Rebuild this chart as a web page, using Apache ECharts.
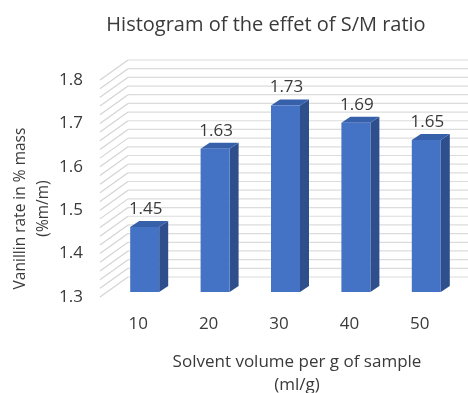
<!DOCTYPE html>
<html>
<head>
<meta charset="utf-8">
<script src="https://cdn.jsdelivr.net/npm/echarts@6/dist/echarts.min.js"></script>
<style>
  html, body { margin: 0; padding: 0; background: #fff; }
  #chart { width: 468px; height: 393px; }
</style>
</head>
<body>
<div id="chart"></div>
<script>
// 数据
const categories = ['10', '20', '30', '40', '50'];
const values = [1.45, 1.63, 1.73, 1.69, 1.65];
const yMin = 1.3;
const yMax = 1.8;
const yStep = 0.1;
const minorStep = 0.02;

const font = 'Open Sans';
const textColor = '#3a3a3a';

// 背景墙的网格线（3D 效果）
const wallLines = [];
for (let k = 0; k <= Math.round((yMax - yMin) / minorStep); k++) {
  wallLines.push([0, +(yMin + k * minorStep).toFixed(2)]);
}

const chart = echarts.init(document.getElementById('chart'));

chart.setOption({
  backgroundColor: '#fff',
  animation: false,
  title: {
    text: 'Histogram of the effet of S/M ratio',
    left: 261, top: 10, textAlign: 'center',
    textStyle: { fontFamily: font, fontSize: 20, fontWeight: 'normal', color: textColor }
  },
  grid: { left: 103, right: 13, top: 80, bottom: 96, containLabel: false, outerBoundsMode: 'none' },
  xAxis: {
    type: 'category',
    data: categories,
    axisLine: { show: false },
    axisTick: { show: false },
    axisLabel: { margin: 19, fontFamily: font, fontSize: 17, color: textColor },
    name: 'Solvent volume per g of sample\n(ml/g)',
    nameLocation: 'middle',
    nameGap: 54,
    nameTextStyle: { fontFamily: font, fontSize: 17, color: textColor, lineHeight: 23, padding: [0, 0, 0, 36] }
  },
  yAxis: {
    type: 'value',
    min: yMin, max: yMax, interval: yStep,
    axisLine: { show: false },
    axisTick: { show: false },
    splitLine: { show: false },
    axisLabel: { margin: 20, fontFamily: font, fontSize: 17, color: textColor,
      formatter: v => v.toFixed(1) },
    name: 'Vanillin rate in % mass\n(%m/m)',
    nameLocation: 'middle',
    nameGap: 48,
    nameMoveOverlap: false,
    nameTextStyle: { fontFamily: font, fontSize: 15.5, color: textColor, lineHeight: 23, padding: [0, 40, 0, 0] }
  },
  series: [
    {
      type: 'custom',
      z: 1,
      silent: true,
      data: wallLines,
      renderItem: (params, api) => {
        const cs = params.coordSys;
        const y = api.coord([0, api.value(1)])[1];
        const x0 = cs.x - 3;
        const x1 = cs.x + 25;
        return {
          type: 'group',
          children: [
            { type: 'line', shape: { x1: x0, y1: y, x2: x1, y2: y - 20 },
              style: { stroke: '#d4d4d4', lineWidth: 1.2 } },
            { type: 'line', shape: { x1: x1, y1: y - 20, x2: 470, y2: y - 20 },
              style: { stroke: '#dcdcdc', lineWidth: 1.2 } }
          ]
        };
      }
    },
    {
      type: 'custom',
      z: 2,
      data: values.map((v, i) => [i, v]),
      renderItem: (params, api) => {
        const top = api.coord([api.value(0), api.value(1)]);
        const base = api.coord([api.value(0), yMin]);
        const w = 29, dx = 9, dy = 6;
        const fx = top[0] - 8;
        const ty = top[1] - 5;
        const by = base[1] - 5;
        return {
          type: 'group',
          children: [
            { type: 'polygon', shape: { points: [[fx + w, ty], [fx + w + dx, ty - dy], [fx + w + dx, by - dy], [fx + w, by]] },
              style: { fill: '#2e4f8c' } },
            { type: 'polygon', shape: { points: [[fx, ty], [fx + dx, ty - dy], [fx + w + dx, ty - dy], [fx + w, ty]] },
              style: { fill: '#3760ab' } },
            { type: 'rect', shape: { x: fx, y: ty, width: w, height: by - ty },
              style: { fill: '#4472c4' } },
            { type: 'text', style: { text: api.value(1).toFixed(2), x: fx + w / 2 + 1, y: ty - 18,
              align: 'center', verticalAlign: 'middle', fontFamily: font, fontSize: 17, fill: textColor } }
          ]
        };
      }
    }
  ]
});
</script>
</body>
</html>
